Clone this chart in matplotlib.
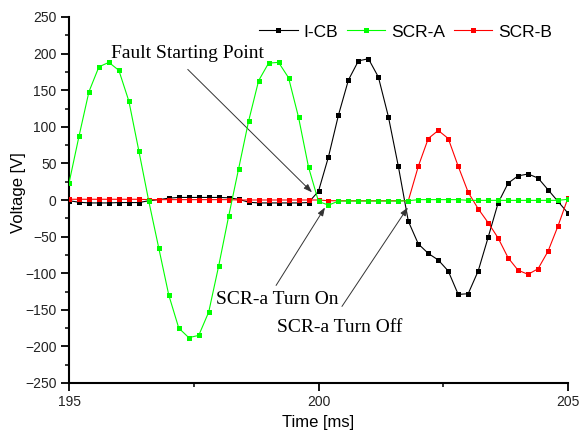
import numpy as np
import matplotlib
matplotlib.use("Agg")
import matplotlib.pyplot as plt
from matplotlib.ticker import MultipleLocator

# sample times [ms]
t_ms = [195.0, 195.2, 195.4, 195.6, 195.8, 196.0, 196.2, 196.4, 196.6, 196.8,
        197.0, 197.2, 197.4, 197.6, 197.8, 198.0, 198.2, 198.4, 198.6, 198.8,
        199.0, 199.2, 199.4, 199.6, 199.8, 200.0, 200.2, 200.4, 200.6, 200.8,
        201.0, 201.2, 201.4, 201.6, 201.8, 202.0, 202.2, 202.4, 202.6, 202.8,
        203.0, 203.2, 203.4, 203.6, 203.8, 204.0, 204.2, 204.4, 204.6, 204.8,
        205.0]

i_cb = [-1, -3, -4, -4, -4, -3.5, -3.5, -3.5, -1, 0.5,
        2.5, 3.5, 3.5, 3.5, 3.5, 3.5, 3, 1, -3, -4,
        -4, -4, -4, -4, -3.5, 12, 59, 116, 164, 190,
        193, 168, 114, 46, -29, -60, -73, -82, -97, -129,
        -128, -97, -51, -4, 23, 33, 35.5, 30, 14, -2,
        -18]

scr_a = [23, 87, 148, 182, 188, 177, 135, 67, -2, -66,
         -130, -175, -188, -185, -153, -90, -22, 43, 108, 163,
         187, 188, 167, 113, 45, -2, -7, -1.5, -1.5, -1.5,
         -1.5, -1.5, -1.5, -1.5, -1, 0.5, 0.5, 0.5, 0.5, 0.5,
         -0.5, -0.5, -0.5, -0.5, -0.5, -0.5, -0.5, -0.5, -0.5, -0.5,
         1]

scr_b = [1, 1, 1, 1, 1, 1, 1, 1, 0.5, 0.5,
         0.5, 0.5, 0.5, 0.5, 0.5, 0.5, 0.5, 0, 0, 0,
         0, 0, 0, 0, 0, 0, -1, -1, -1, -1,
         -1, -1, -1, -1, -1, 46, 84, 95, 84, 46,
         10.5, -12, -31, -52, -79, -96, -101.5, -94, -70, -35.5,
         3]

sans = "Liberation Sans"
serif = "Liberation Serif"

fig = plt.figure(figsize=(5.8, 4.34), dpi=100)
ax = fig.add_axes([69/580, 1-383/434, (568-69)/580, (383-17)/434])

mk = dict(marker="s", markersize=3.6, linewidth=0.8, markeredgewidth=0)
ax.plot(t_ms, i_cb, color="black", label="I-CB", zorder=3, **mk)
ax.plot(t_ms, scr_b, color="#ff0000", label="SCR-B", zorder=4, **mk)
ax.plot(t_ms, scr_a, color="#00ff00", label="SCR-A", zorder=5, **mk)

ax.set_xlim(195, 205)
ax.set_ylim(-250, 250)
ax.set_xticks([195, 200, 205])
ax.xaxis.set_minor_locator(MultipleLocator(2.5))
ax.yaxis.set_major_locator(MultipleLocator(50))
ax.yaxis.set_minor_locator(MultipleLocator(25))

for s in ["top", "right"]:
    ax.spines[s].set_visible(False)
for s in ["left", "bottom"]:
    ax.spines[s].set_linewidth(1.5)
ax.tick_params(which="major", direction="out", length=6, width=1.3,
               labelsize=10, pad=3)
ax.tick_params(which="minor", direction="out", length=3, width=1.1)
for lab in ax.get_xticklabels() + ax.get_yticklabels():
    lab.set_fontfamily(sans)
    lab.set_color("#222222")

ax.set_xlabel("Time [ms]", fontsize=12, fontfamily=sans, labelpad=4)
ax.set_ylabel("Voltage [V]", fontsize=12, fontfamily=sans, labelpad=-1)
ax.yaxis.label.set_y(0.52)

# legend in one row above the curves
handles, labels = ax.get_legend_handles_labels()
order = [0, 2, 1]
leg = fig.legend([handles[i] for i in order], [labels[i] for i in order],
                 loc="center right", bbox_to_anchor=(559/580, 1-32/434),
                 ncol=3, frameon=False, handlelength=2.2, handletextpad=0.35,
                 columnspacing=0.5, borderaxespad=0,
                 prop={"family": sans, "size": 12.5})

arrow = dict(arrowstyle="-|>,head_length=0.5,head_width=0.18",
             color="#333333", lw=0.7, shrinkA=0, shrinkB=0)

ax.text(197.38, 200.4, "Fault Starting Point", ha="center", va="center",
        fontsize=14, fontfamily=serif)
ax.annotate("", xy=(199.87, 10.5), xytext=(197.38, 178.4), arrowprops=arrow)

ax.text(199.18, -135.7, "SCR-a Turn On", ha="center", va="center",
        fontsize=14, fontfamily=serif)
ax.annotate("", xy=(200.13, -10.2), xytext=(199.15, -116.7), arrowprops=arrow)

ax.text(200.43, -173.9, "SCR-a Turn Off", ha="center", va="center",
        fontsize=14, fontfamily=serif)
ax.annotate("", xy=(201.79, -10.2), xytext=(200.47, -145.4), arrowprops=arrow)

fig.savefig("out.png", dpi=100)
